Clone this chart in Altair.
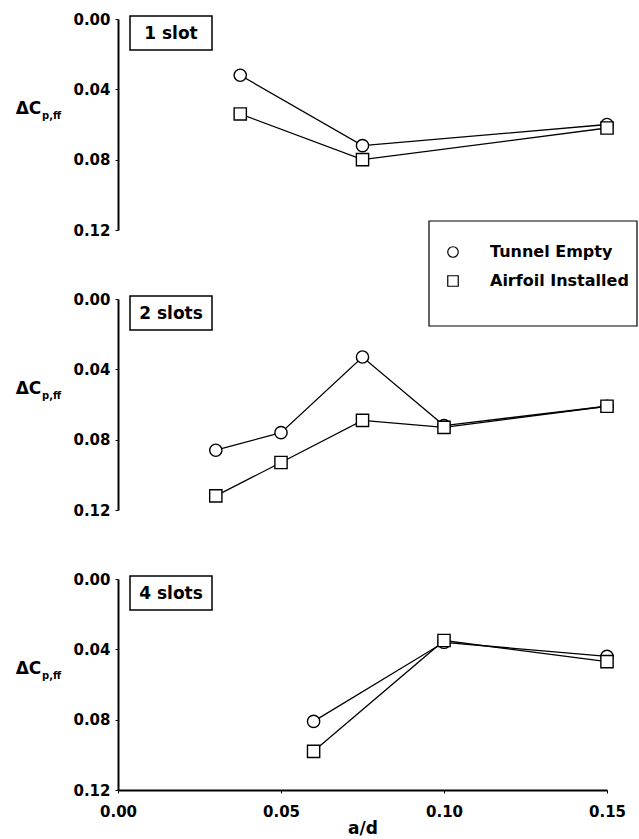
import altair as alt
import pandas as pd

# ---- data ----
series_names = ["Tunnel Empty", "Airfoil Installed"]
panel_labels = ["1 slot", "2 slots", "4 slots"]

x_1slot = [0.0375, 0.075, 0.15]
empty_1slot = [0.032, 0.072, 0.060]
airfoil_1slot = [0.054, 0.080, 0.062]

x_2slot = [0.03, 0.05, 0.075, 0.10, 0.15]
empty_2slot = [0.086, 0.076, 0.033, 0.072, 0.061]
airfoil_2slot = [0.112, 0.093, 0.069, 0.073, 0.061]

x_4slot = [0.06, 0.10, 0.15]
empty_4slot = [0.081, 0.036, 0.044]
airfoil_4slot = [0.098, 0.035, 0.047]

x_ticks = [0.0, 0.05, 0.10, 0.15]
y_ticks = [0.0, 0.04, 0.08, 0.12]

FONT = "DejaVu Sans"
W, H = 489, 211

SHAPE_SCALE = alt.Scale(domain=series_names, range=["circle", "square"])


def make_df(xs, e, a):
    rows = []
    for xv, yv in zip(xs, e):
        rows.append({"x": xv, "y": yv, "series": series_names[0], "order": 0})
    for xv, yv in zip(xs, a):
        rows.append({"x": xv, "y": yv, "series": series_names[1], "order": 1})
    return pd.DataFrame(rows)


def legend_layers():
    # hand-drawn legend box (sits across the bottom of the first panel)
    leg = pd.DataFrame({"series": series_names})
    layers = [
        alt.Chart(pd.DataFrame({"k": [0]})).mark_rect(
            fill="white", stroke="black", strokeWidth=1.2
        ).encode(x=alt.value(311), x2=alt.value(519), y=alt.value(202), y2=alt.value(307))
    ]
    for i, name in enumerate(series_names):
        one = alt.Chart(leg).transform_filter(alt.datum.series == name)
        layers.append(
            one.mark_point(filled=False, fill="white", fillOpacity=1, color="black",
                           strokeWidth=1.2, size=110).encode(
                x=alt.value(335), y=alt.value(233 + 29 * i),
                shape=alt.Shape("series:N", scale=SHAPE_SCALE, legend=None),
            )
        )
        layers.append(
            one.mark_text(font=FONT, fontSize=16, fontWeight="bold", color="black",
                          align="left", baseline="middle").encode(
                x=alt.value(372), y=alt.value(233 + 29 * i), text="series:N",
            )
        )
    return layers


def panel(df, label, show_x, with_legend):
    xscale = alt.Scale(domain=[0, 0.15], nice=False, zero=False)
    yscale = alt.Scale(domain=[0, 0.12], reverse=True, nice=False)
    if show_x:
        xaxis = alt.Axis(values=x_ticks, format=".2f", title="a/d", grid=False,
                         labelFont=FONT, labelFontSize=15, labelFontWeight="bold",
                         labelColor="black", labelPadding=11, tickSize=3,
                         tickColor="black", domainColor="black", domainWidth=2,
                         titleFont=FONT, titleFontSize=17, titleFontWeight="bold",
                         titleColor="black", titlePadding=1, labelFlush=False)
    else:
        xaxis = None
    yaxis = alt.Axis(values=y_ticks, format=".2f", title="ΔC", grid=False,
                     labelFont=FONT, labelFontSize=15, labelFontWeight="bold",
                     labelColor="black", labelPadding=5, tickSize=3,
                     tickColor="black", domainColor="black", domainWidth=2,
                     titleFont=FONT, titleFontSize=17, titleFontWeight="bold",
                     titleColor="black", titleAngle=0, titleX=-90, titleY=94,
                     titleAlign="center", titleBaseline="alphabetic", labelFlush=False)

    base = alt.Chart(df)
    lines = base.mark_line(color="black", strokeWidth=1.3).encode(
        x=alt.X("x:Q", scale=xscale, axis=xaxis),
        y=alt.Y("y:Q", scale=yscale, axis=yaxis),
        detail="series:N",
        order="x:Q",
    )
    pts = base.mark_point(filled=False, fill="white", fillOpacity=1, color="black",
                          strokeWidth=1.4, opacity=1, size=150).encode(
        x=alt.X("x:Q", scale=xscale),
        y=alt.Y("y:Q", scale=yscale),
        shape=alt.Shape("series:N", scale=SHAPE_SCALE, legend=None),
        order=alt.Order("order:Q"),
    )
    lab = pd.DataFrame({"label": [label]})
    box = alt.Chart(lab).mark_rect(fill="white", stroke="black", strokeWidth=1.5).encode(
        x=alt.value(12), x2=alt.value(94), y=alt.value(-3), y2=alt.value(31)
    )
    txt = alt.Chart(lab).mark_text(font=FONT, fontSize=17, fontWeight="bold",
                                   color="black", align="center", baseline="middle").encode(
        x=alt.value(53), y=alt.value(15), text="label:N"
    )
    sub = alt.Chart(lab).mark_text(font=FONT, fontSize=10, fontWeight="bold",
                                   color="black", align="left", baseline="alphabetic").encode(
        x=alt.value(-76), y=alt.value(100), text=alt.value("p,ff")
    )
    layers = [lines, pts, box, txt, sub]
    if with_legend:
        layers += legend_layers()
    return alt.layer(*layers).properties(width=W, height=H)


p1 = panel(make_df(x_1slot, empty_1slot, airfoil_1slot), panel_labels[0], False, True)
p2 = panel(make_df(x_2slot, empty_2slot, airfoil_2slot), panel_labels[1], False, False)
p3 = panel(make_df(x_4slot, empty_4slot, airfoil_4slot), panel_labels[2], True, False)

chart = alt.vconcat(p1, p2, p3, spacing=69, bounds="flush").properties(
    padding={"left": 15, "top": 12, "right": 0, "bottom": 0},
    background="white",
).configure_view(strokeWidth=0, stroke="transparent")

chart.save("out.html", embed_options={"renderer": "svg", "actions": False})
